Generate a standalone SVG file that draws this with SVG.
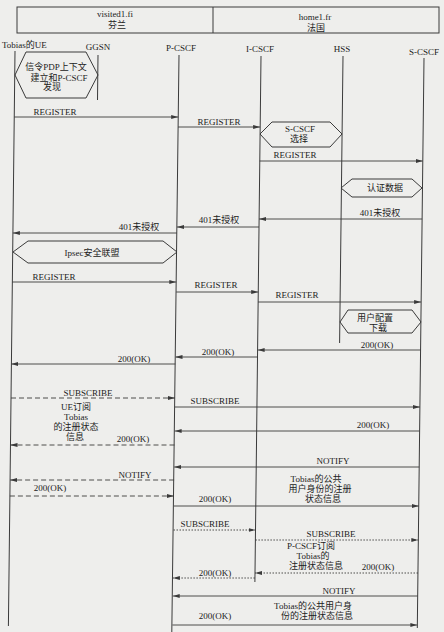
<svg xmlns="http://www.w3.org/2000/svg" width="444" height="632" viewBox="0 0 444 632">
<defs>
<style>
.t{font-family:"Liberation Serif","Noto Sans CJK SC",serif;font-size:9px;fill:#222;text-anchor:middle}
.ts{text-anchor:start}
.ll{stroke:#3a3a3a;stroke-width:1;fill:none}
.m{stroke:#3a3a3a;stroke-width:0.9;fill:none;marker-end:url(#ah)}
.d{stroke-dasharray:5,3}
.o{stroke-dasharray:1.5,1.5}
.hx{stroke:#3a3a3a;stroke-width:1;fill:none}
</style>
<marker id="ah" markerUnits="userSpaceOnUse" markerWidth="7" markerHeight="4" refX="7" refY="2" orient="auto">
<path d="M0,0 L7,2 L0,4 z" fill="#3a3a3a"/>
</marker>
</defs>
<rect x="0" y="0" width="444" height="632" fill="#eeeeec"/>

<g id="domains">
<rect x="17" y="7" width="422" height="26" class="hx"/>
<line x1="213" y1="7" x2="213" y2="33" class="ll"/>
<text class="t" x="115" y="17">visited1.fi</text>
<text class="t" x="117" y="28">芬兰</text>
<text class="t" x="315" y="20">home1.fr</text>
<text class="t" x="316" y="31">法国</text>
</g>

<g id="ue">
<text class="t ts" x="2" y="48">Tobias的UE</text>
<line class="ll" x1="15" y1="51" x2="8.4" y2="626"/>
</g>
<g id="ggsn">
<text class="t" x="98" y="50">GGSN</text>
<line class="ll" x1="98" y1="55" x2="97.5" y2="100"/>
</g>
<g id="pcscf">
<text class="t" x="181" y="51">P-CSCF</text>
<line class="ll" x1="179" y1="55" x2="171.8" y2="632"/>
</g>
<g id="icscf">
<text class="t" x="260" y="52">I-CSCF</text>
<line class="ll" x1="261" y1="56" x2="254.9" y2="582"/>
</g>
<g id="hss">
<text class="t" x="342" y="52">HSS</text>
<line class="ll" x1="343" y1="56" x2="339.6" y2="343"/>
</g>
<g id="scscf">
<text class="t" x="424" y="55">S-CSCF</text>
<line class="ll" x1="424" y1="58" x2="417.3" y2="628"/>
</g>

<g id="hex-pdp">
<polygon class="hx" points="15,75 26,52 86,52 98,75 86,98 26,98"/>
<text class="t" x="56" y="70">信令PDP上下文</text>
<text class="t" x="59" y="81">建立和P-CSCF</text>
<text class="t" x="52" y="90">发现</text>
</g>
<g id="hex-scscf-sel">
<polygon class="hx" points="260,134 272,122 330,122 342,134 330,147 272,147"/>
<text class="t" x="300" y="132">S-CSCF</text>
<text class="t" x="299" y="142">选择</text>
</g>
<g id="hex-auth">
<polygon class="hx" points="341,188 352,179 412,179 422,188 412,197 352,197"/>
<text class="t" x="385" y="191">认证数据</text>
</g>
<g id="hex-ipsec">
<polygon class="hx" points="13,252 28,241 163,241 177,252 163,263 28,263"/>
<text class="t" x="92" y="256">Ipsec安全联盟</text>
</g>
<g id="hex-profile">
<polygon class="hx" points="340,322 348,310 412,310 421,322 412,333 348,333"/>
<text class="t" x="375" y="321">用户配置</text>
<text class="t" x="378" y="331">下载</text>
</g>

<g id="notes">
<text class="t" x="76" y="410">UE订阅</text>
<text class="t" x="76" y="420">Tobias</text>
<text class="t" x="76" y="430">的注册状态</text>
<text class="t" x="75" y="440">信息</text>
<text class="t" x="316" y="482">Tobias的公共</text>
<text class="t" x="320" y="492">用户身份的注册</text>
<text class="t" x="323" y="502">状态信息</text>
<text class="t" x="311" y="549">P-CSCF订阅</text>
<text class="t" x="313" y="559">Tobias的</text>
<text class="t" x="316" y="569">注册状态信息</text>
<text class="t" x="313" y="609">Tobias的公共用户身</text>
<text class="t" x="317" y="619">份的注册状态信息</text>
</g>

<g id="connectors">
<line class="m" x1="14.2" y1="117" x2="178.2" y2="117"/>
<text class="t" x="55" y="115">REGISTER</text>
<line class="m" x1="178.1" y1="127" x2="260.1" y2="127"/>
<text class="t" x="219" y="125">REGISTER</text>
<line class="m" x1="259.7" y1="161" x2="422.7" y2="161"/>
<text class="t" x="295" y="158">REGISTER</text>
<line class="m" x1="422.1" y1="219" x2="259.1" y2="219"/>
<text class="t" x="380" y="216">401未授权</text>
<line class="m" x1="259" y1="227" x2="177" y2="227"/>
<text class="t" x="219" y="223">401未授权</text>
<line class="m" x1="176.9" y1="233" x2="12.9" y2="233"/>
<text class="t" x="139" y="230">401未授权</text>
<line class="m" x1="12.3" y1="282" x2="176.3" y2="282"/>
<text class="t" x="54" y="280">REGISTER</text>
<line class="m" x1="176.2" y1="292" x2="258.2" y2="292"/>
<text class="t" x="216" y="288">REGISTER</text>
<line class="m" x1="258.1" y1="302" x2="421.1" y2="302"/>
<text class="t" x="297" y="298">REGISTER</text>
<line class="m" x1="420.6" y1="350" x2="257.6" y2="350"/>
<text class="t" x="377" y="348">200(OK)</text>
<line class="m" x1="257.5" y1="357" x2="175.5" y2="357"/>
<text class="t" x="218" y="355">200(OK)</text>
<line class="m" x1="175.4" y1="364" x2="11.4" y2="364"/>
<text class="t" x="134" y="362">200(OK)</text>
<line class="m d" x1="11" y1="398" x2="175" y2="398"/>
<text class="t" x="88" y="396">SUBSCRIBE</text>
<line class="m" x1="174.9" y1="407" x2="419.9" y2="407"/>
<text class="t" x="215" y="404">SUBSCRIBE</text>
<line class="m" x1="419.6" y1="431" x2="174.6" y2="431"/>
<text class="t" x="373" y="428">200(OK)</text>
<line class="m d" x1="174.5" y1="445" x2="10.5" y2="445"/>
<text class="t" x="133" y="442">200(OK)</text>
<line class="m" x1="419.2" y1="467" x2="174.2" y2="467"/>
<text class="t" x="333" y="464">NOTIFY</text>
<line class="m d" x1="174.1" y1="480" x2="10.1" y2="480"/>
<text class="t" x="135" y="478">NOTIFY</text>
<line class="m d" x1="9.9" y1="496" x2="173.9" y2="496"/>
<text class="t" x="50" y="491">200(OK)</text>
<line class="m" x1="173.8" y1="506" x2="418.8" y2="506"/>
<text class="t" x="215" y="502">200(OK)</text>
<line class="m o" x1="173.5" y1="530" x2="255.5" y2="530"/>
<text class="t" x="205" y="527">SUBSCRIBE</text>
<line class="m o" x1="255.4" y1="540" x2="418.4" y2="540"/>
<text class="t" x="331" y="537">SUBSCRIBE</text>
<line class="m o" x1="418" y1="573" x2="255" y2="573"/>
<text class="t" x="378" y="570">200(OK)</text>
<line class="m o" x1="254.9" y1="578" x2="172.9" y2="578"/>
<text class="t" x="215" y="576">200(OK)</text>
<line class="m" x1="417.7" y1="596" x2="172.7" y2="596"/>
<text class="t" x="339" y="594">NOTIFY</text>
<line class="m" x1="172.4" y1="625" x2="417.4" y2="625"/>
<text class="t" x="215" y="619">200(OK)</text>
</g>
</svg>
